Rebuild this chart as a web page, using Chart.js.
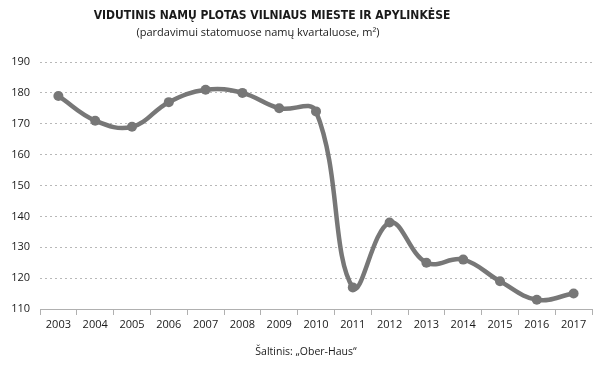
<!DOCTYPE html>
<html>
<head>
    <title>Vidutinis namų plotas</title>
    <script src="https://cdn.jsdelivr.net/npm/chart.js"></script>
    <style>
        body { margin: 0; background: #fff; }
        #wrap { width: 600px; height: 365px; }
    </style>
</head>
<body>
    <div id="wrap"><canvas id="chart"></canvas></div>

    <script>
        // duomenys
        var years = ['2003', '2004', '2005', '2006', '2007', '2008', '2009', '2010',
                     '2011', '2012', '2013', '2014', '2015', '2016', '2017'];
        var area = [179, 171, 169, 177, 181, 180, 175, 174, 117, 138, 125, 126, 119, 113, 115];
        var yTicks = [110, 120, 130, 140, 150, 160, 170, 180, 190];

        var titleText = 'VIDUTINIS NAMŲ PLOTAS VILNIAUS MIESTE IR APYLINKĖSE';
        var subtitleText = '(pardavimui statomuose namų kvartaluose, m²)';
        var sourceText = 'Šaltinis: „Ober-Haus“';

        var lineGrey = '#777777';

        // antraštės ir šaltinis
        var textPlugin = {
            id: 'texts',
            afterDraw: function (chart) {
                var ctx = chart.ctx;
                ctx.save();
                ctx.fillStyle = '#1a1a1a';
                ctx.textAlign = 'center';
                ctx.textBaseline = 'middle';
                ctx.font = 'bold 12px "Liberation Sans Narrow", "DejaVu Sans Condensed", sans-serif';
                ctx.fillText(titleText, 272, 16);
                ctx.font = '11px "Open Sans", sans-serif';
                ctx.fillText(subtitleText, 258, 33);
                ctx.font = '10.5px "Open Sans", sans-serif';
                ctx.fillText(sourceText, 306, 352);
                ctx.restore();
            }
        };

        var ctx = document.getElementById('chart').getContext('2d');
        new Chart(ctx, {
            type: 'line',
            data: {
                labels: years,
                datasets: [{
                    data: area,
                    borderColor: lineGrey,
                    backgroundColor: lineGrey,
                    borderWidth: 4.5,
                    tension: 0.4,
                    pointRadius: 5,
                    pointHoverRadius: 5,
                    pointBackgroundColor: lineGrey,
                    pointBorderWidth: 0,
                    fill: false
                }]
            },
            plugins: [textPlugin],
            options: {
                responsive: true,
                maintainAspectRatio: false,
                animation: false,
                layout: {
                    padding: { top: 62, right: 8, bottom: 32, left: 0 }
                },
                plugins: {
                    legend: { display: false },
                    tooltip: { enabled: false }
                },
                scales: {
                    x: {
                        offset: true,
                        afterFit: function (s) { s.height = 24; },
                        grid: {
                            offset: true,
                            drawOnChartArea: false,
                            drawTicks: true,
                            tickLength: 6,
                            color: '#b0b0b0'
                        },
                        border: { color: '#b0b0b0' },
                        ticks: {
                            color: '#1a1a1a',
                            padding: 3,
                            maxRotation: 0,
                            font: { family: '"Open Sans", sans-serif', size: 11 }
                        }
                    },
                    y: {
                        min: 110,
                        max: 190,
                        afterFit: function (s) { s.width = 40; },
                        afterBuildTicks: function (s) {
                            s.ticks = yTicks.map(function (v) { return { value: v }; });
                        },
                        grid: {
                            color: '#b8b8b8',
                            drawTicks: false,
                            lineWidth: 1
                        },
                        border: { display: false, dash: [2, 3] },
                        ticks: {
                            color: '#1a1a1a',
                            padding: 10,
                            font: { family: '"Open Sans", sans-serif', size: 11 }
                        }
                    }
                }
            }
        });
    </script>
</body>
</html>
